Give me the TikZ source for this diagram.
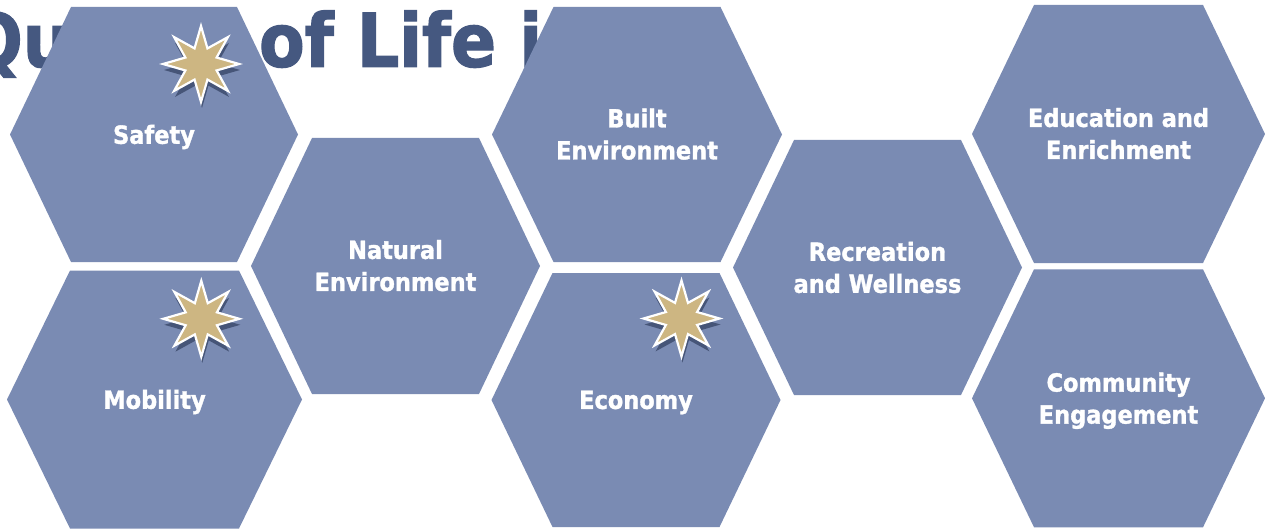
\documentclass[tikz,border=0pt]{standalone}
\usepackage{fontspec}
\usetikzlibrary{shapes.geometric}
\newfontfamily\hexfont{DejaVu Sans Condensed}[BoldFeatures={FakeBold=1.3}]
\newfontfamily\titlefont{DejaVu Sans Condensed}[BoldFeatures={FakeBold=1.6}]
\definecolor{hexfill}{RGB}{122,139,179}
\definecolor{titleblue}{RGB}{69,88,128}
\definecolor{startan}{RGB}{205,182,130}
\definecolor{starshadow}{RGB}{62,76,110}
\newcommand\hexa[5]{%
  \fill[hexfill] ({#1-#3},{#2}) -- ({#1-#5},{#2-#4}) -- ({#1+#5},{#2-#4}) --
    ({#1+#3},{#2}) -- ({#1+#5},{#2+#4}) -- ({#1-#5},{#2+#4}) -- cycle;}
\tikzset{
  hexlabel/.style={text=white, align=center, inner sep=0pt,
    font=\hexfont\bfseries\fontsize{25}{32}\selectfont},
  titletext/.style={text=titleblue, inner sep=0pt, anchor=base west,
    font=\titlefont\bfseries\fontsize{74}{80}\selectfont},
  starbase/.style={star, star points=8, star point ratio=2.25,
    minimum size=76pt, inner sep=0pt},
  starmark/.style={starbase, fill=startan, draw=white, line width=2.2pt},
  starshade/.style={starbase, fill=starshadow, opacity=0.85, xshift=1pt, yshift=-6pt}
}
\begin{document}
\begin{tikzpicture}[x=1pt,y=-1pt]
\useasboundingbox (0,0) rectangle (1265,529);
% title (partly hidden behind the hexagons)
\node[titletext] (title) at (-34,66.7) {Quality of Life in};
% hexagons
\hexa{154}{134.5}{144}{127.5}{83}
\hexa{154.5}{399.5}{147.5}{129}{84.5}
\hexa{395.5}{266}{144.5}{128}{83.5}
\hexa{637}{134.5}{145}{127.5}{83.5}
\hexa{636}{400}{144.5}{127}{83.5}
\hexa{877.5}{267.5}{144.5}{127.5}{83.5}
\hexa{1118.5}{134}{146.5}{129}{84.5}
\hexa{1118.5}{398.3}{146.5}{129}{84.5}
% labels
\node[hexlabel] (safety) at (154,137) {Safety};
\node[hexlabel] (mobility) at (154.5,402) {Mobility};
\node[hexlabel] (natural) at (395.5,265.6) {Natural\\Environment};
\node[hexlabel] (built) at (637,134.1) {Built\\Environment};
\node[hexlabel] (economy) at (636,402.5) {Economy};
\node[hexlabel] (recreation) at (877.5,267.5) {Recreation\\and Wellness};
\node[hexlabel] (education) at (1118.5,133.6) {Education and\\Enrichment};
\node[hexlabel] (community) at (1118.5,400.8) {Community\\Engagement};
% stars
\node[starshade] (s1sh) at (201,64) {};
\node[starmark] (s1) at (201,64) {};
\node[starshade] (s2sh) at (201.3,318.8) {};
\node[starmark] (s2) at (201.3,318.8) {};
\node[starshade] (s3sh) at (681.5,318.5) {};
\node[starmark] (s3) at (681.5,318.5) {};
\end{tikzpicture}
\end{document}
